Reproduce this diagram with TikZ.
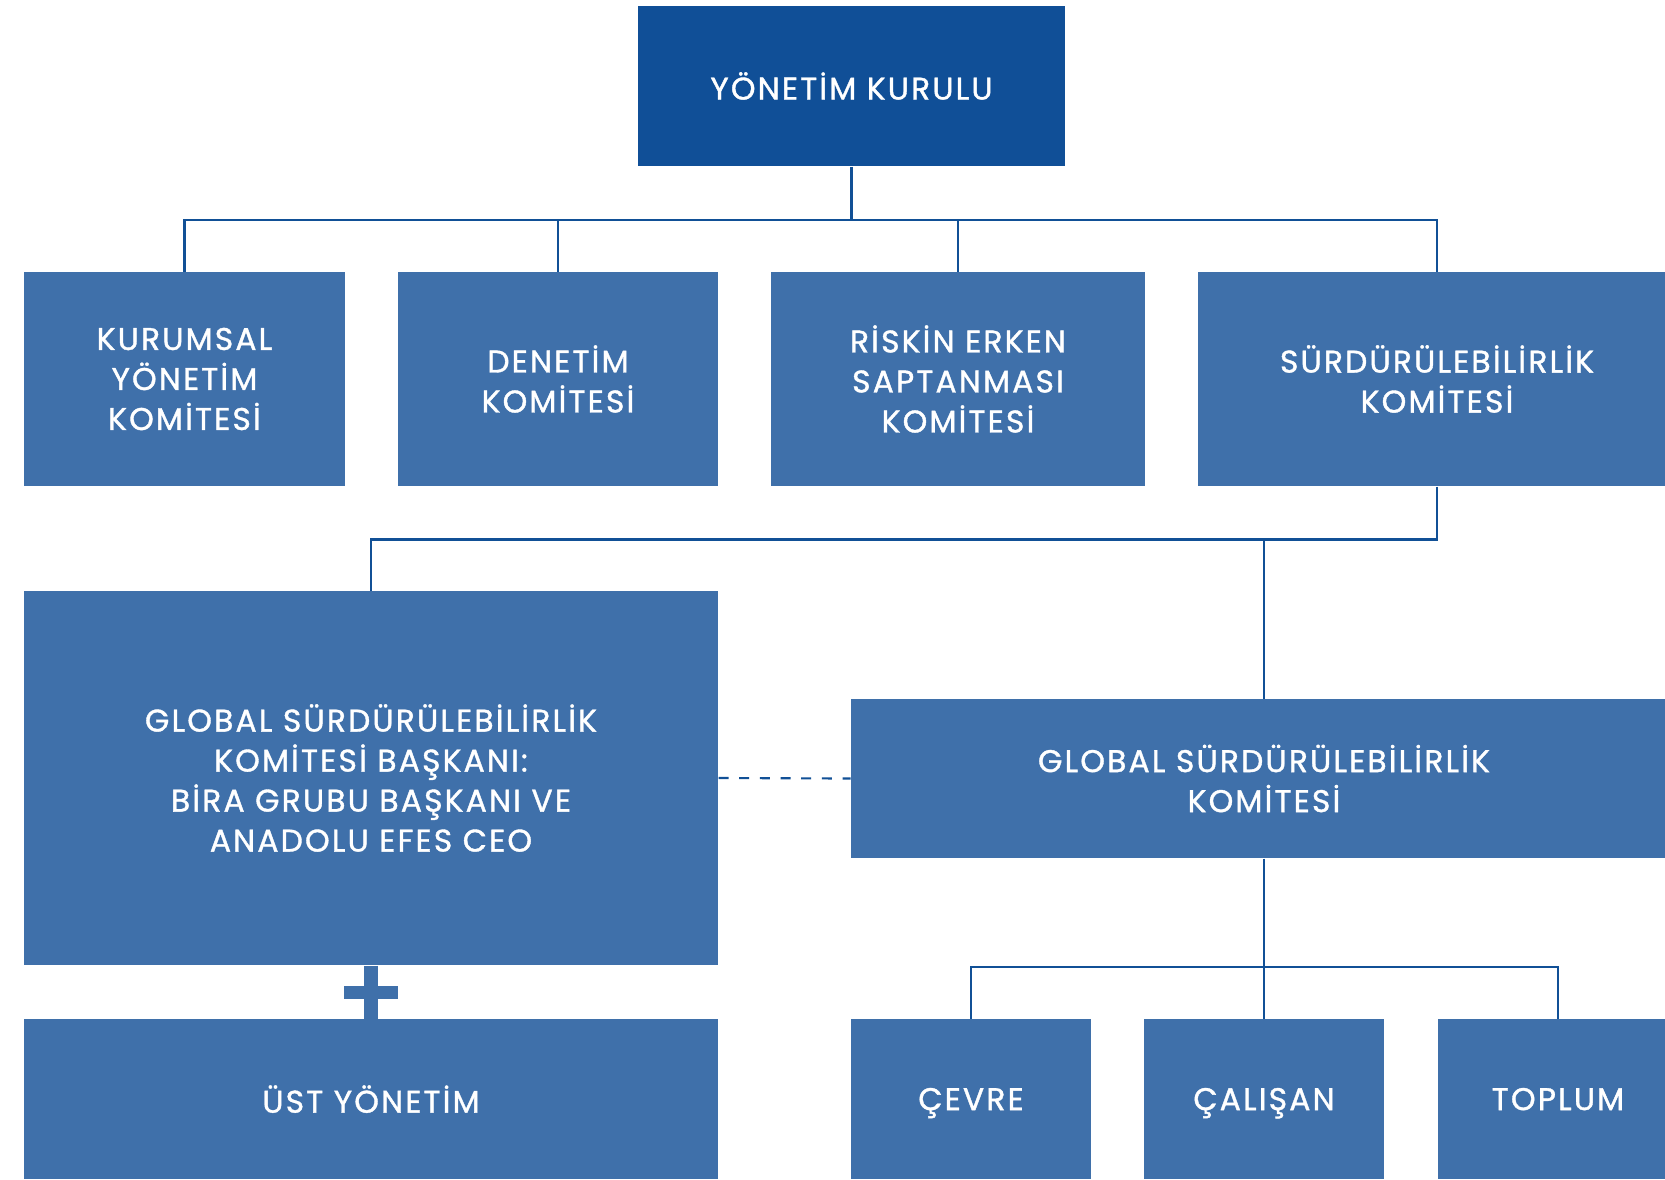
\documentclass[tikz,border=0pt]{standalone}
\usepackage{fontspec}
\setmainfont{Poppins}[LetterSpace=7,FakeBold=1.2]
\definecolor{boardblue}{RGB}{16,79,151}
\definecolor{boxblue}{RGB}{63,112,170}
\definecolor{lineblue}{RGB}{17,80,150}
\newcommand{\orgfont}{\fontsize{23.5}{30}\selectfont}

\tikzset{every picture/.style={line width=0.75pt}}
\tikzset{
  board/.style={rectangle, fill=boardblue, text=white, inner sep=0pt, align=center, font=\orgfont},
  unit/.style={rectangle, fill=boxblue, text=white, inner sep=0pt, align=center, font=\orgfont},
  leaf/.style={unit, minimum height=120pt, text depth=0pt},
  link/.style={draw=lineblue, line width=1.6pt},
  bar/.style={draw=boxblue, line width=10pt},
}

\begin{document}
\begin{tikzpicture}[x=0.75pt,y=0.75pt,yscale=-1,xscale=1]
\useasboundingbox (0,0) rectangle (1665,1179);
\clip (0,0) rectangle (1665,1179);

% Board
\node [board, minimum width=320.25pt, minimum height=120pt] (board) at (851.5,86) {YÖNETİM KURULU};

% Committees
\node [unit, minimum width=240.75pt, minimum height=160.5pt] (kurumsal) at (184.5,379) {KURUMSAL\\YÖNETİM\\KOMİTESİ};
\node [unit, minimum width=240pt, minimum height=160.5pt] (denetim) at (558,379) {DENETİM\\KOMİTESİ};
\node [unit, minimum width=280.5pt, minimum height=160.5pt] (riskin) at (958,379) {RİSKİN ERKEN\\SAPTANMASI\\KOMİTESİ};
\node [unit, minimum width=358.5pt, minimum height=160.5pt] (surdur) at (1437,379) {SÜRDÜRÜLEBİLİRLİK\\KOMİTESİ};

% Global level
\node [unit, minimum width=520.5pt, minimum height=280.5pt] (baskan) at (371,778) {GLOBAL SÜRDÜRÜLEBİLİRLİK\\KOMİTESİ BAŞKANI:\\BİRA GRUBU BAŞKANI VE\\ANADOLU EFES CEO};
\node [unit, minimum width=619.5pt, minimum height=119.25pt] (global) at (1264,778.5) {GLOBAL SÜRDÜRÜLEBİLİRLİK\\KOMİTESİ};

% Bottom row
\node [leaf, minimum width=520.5pt] (ust) at (371,1099) {ÜST YÖNETİM};
\node [leaf, minimum width=180pt] (cevre) at (971,1099) {ÇEVRE};
\node [leaf, minimum width=180pt] (calisan) at (1264,1099) {ÇALIŞAN};
\node [leaf, minimum width=180pt] (toplum) at (1558,1099) {TOPLUM};

% Bus coordinates
\coordinate (bus1) at (851.5,220);
\coordinate (bus2) at (1264,539.5);
\coordinate (bus3) at (1264,967);

% Board to committees
\draw [link] (board.south) -- (bus1);
\draw [link] (kurumsal.north) |- (bus1) -| (surdur.north);
\draw [link] (denetim.north) -- (denetim.north |- bus1);
\draw [link] (riskin.north) -- (riskin.north |- bus1);

% Sustainability committee to global level
\draw [link] (surdur.south) |- (bus2) -| (baskan.north);
\draw [link] (bus2) -- (global.north);
\draw [link, dash pattern=on 7.5pt off 8pt] (baskan.east) -- (global.west);

% Global committee to working groups
\draw [link] (global.south) -- (bus3);
\draw [link] (cevre.north) |- (bus3) -| (toplum.north);
\draw [link] (bus3) -- (calisan.north);

% Plus sign
\draw [bar] (baskan.south) -- (ust.north);
\draw [line width=10pt, boxblue] ([xshift=-20pt]baskan.south |- 0,992.5) -- ([xshift=20pt]baskan.south |- 0,992.5);
\end{tikzpicture}
\end{document}
